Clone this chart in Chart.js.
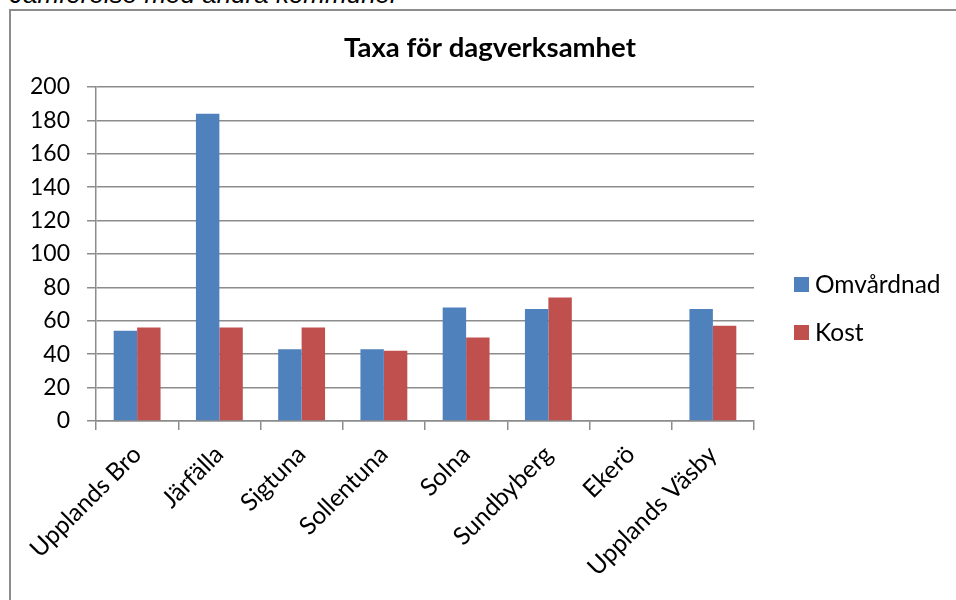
<!DOCTYPE html>
<html>
<head>
<meta charset="utf-8">
<script src="https://cdn.jsdelivr.net/npm/chart.js@4.4.1/dist/chart.umd.min.js"></script>
<style>
    html, body { margin: 0; padding: 0; width: 956px; height: 600px; overflow: hidden; background: #fff; }
    #heading { position: absolute; left: 10px; top: -19px; font: italic 26px "Liberation Sans", Arial, sans-serif; line-height: 26px; color: #000; white-space: nowrap; }
    #frame { position: absolute; left: 9px; top: 9px; width: 1000px; height: 700px; border-left: 2px solid #8c8c8c; border-top: 2px solid #8c8c8c; }
    #wrap { position: absolute; left: 0; top: 0; width: 980px; height: 600px; }
</style>
</head>
<body>
<div id="heading">Jämförelse med andra kommuner</div>
<div id="frame"></div>
<div id="wrap"><canvas id="taxaChart"></canvas></div>
<script>
const kommuner = ['Upplands Bro', 'Järfälla', 'Sigtuna', 'Sollentuna', 'Solna', 'Sundbyberg', 'Ekerö', 'Upplands Väsby'];
const omvardnad = [54, 184, 43, 43, 68, 67, null, 67];
const kost = [56, 56, 56, 42, 50, 74, null, 57];
const yTicks = [0, 20, 40, 60, 80, 100, 120, 140, 160, 180, 200];
const chartTitle = 'Taxa för dagverksamhet';

const gridColor = '#8c8c8c';
const font = 'Lato';

// title and legend drawn by hand so they sit where Excel put them
const sideParts = {
    id: 'sideParts',
    afterDraw(chart) {
        const ctx = chart.ctx;
        ctx.save();
        ctx.fillStyle = '#000';
        ctx.font = 'bold 27.5px ' + font;
        ctx.textAlign = 'center';
        ctx.textBaseline = 'middle';
        ctx.fillText(chartTitle, 490, 48);

        const x = chart.chartArea.right + 40;
        ctx.font = '24.5px ' + font;
        ctx.textAlign = 'left';
        chart.data.datasets.forEach((ds, i) => {
            const y = 284.5 + i * 48;
            ctx.fillStyle = ds.backgroundColor;
            ctx.fillRect(x, y - 7.5, 15, 15);
            ctx.fillStyle = '#000';
            ctx.fillText(ds.label, x + 21, y + 1);
        });
        ctx.restore();
    }
};

new Chart(document.getElementById('taxaChart').getContext('2d'), {
    type: 'bar',
    data: {
        labels: kommuner,
        datasets: [
            { label: 'Omvårdnad', data: omvardnad, backgroundColor: '#4F81BD' },
            { label: 'Kost', data: kost, backgroundColor: '#C0504D' }
        ]
    },
    options: {
        responsive: true,
        maintainAspectRatio: false,
        animation: false,
        categoryPercentage: 0.57,
        barPercentage: 1.0,
        layout: { padding: { left: 0, right: 226, top: 87, bottom: 0 } },
        scales: {
            x: {
                afterFit: scale => { scale.height = 179; },
                grid: { drawOnChartArea: false, drawTicks: true, tickLength: 9, color: gridColor, lineWidth: 1.5 },
                border: { color: gridColor, width: 1.5 },
                ticks: {
                    autoSkip: false, minRotation: 45, maxRotation: 45, padding: 10,
                    color: '#000', font: { family: font, size: 24.5 }
                }
            },
            y: {
                min: 0,
                max: 200,
                afterFit: scale => { scale.width = 96; },
                afterBuildTicks: scale => { scale.ticks = yTicks.map(v => ({ value: v })); },
                grid: { color: gridColor, lineWidth: 1.5, tickLength: 9 },
                border: { color: gridColor, width: 1.5 },
                ticks: { padding: 17, color: '#000', font: { family: font, size: 23 } }
            }
        },
        plugins: {
            legend: { display: false },
            tooltip: { enabled: false },
            title: { display: false }
        }
    },
    plugins: [sideParts]
});
</script>
</body>
</html>
